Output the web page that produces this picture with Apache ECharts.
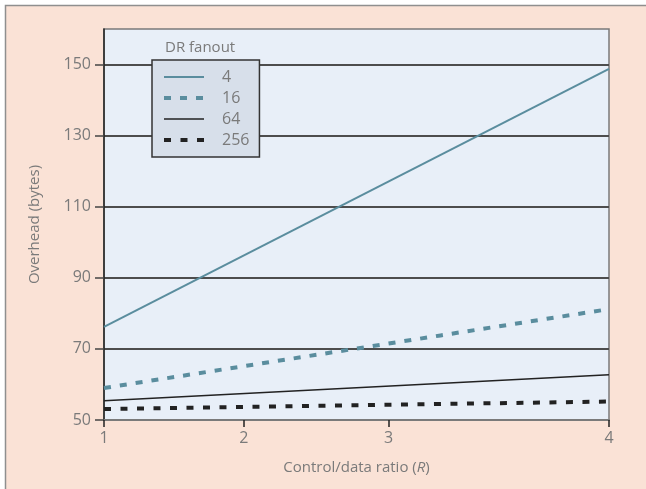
<!DOCTYPE html>
<html>
<head>
<meta charset="utf-8">
<script src="https://cdn.jsdelivr.net/npm/echarts@6/dist/echarts.min.js"></script>
<style>
  html, body { margin: 0; padding: 0; background: #ffffff; }
  #chart { width: 646px; height: 489px; }
</style>
</head>
<body>
<div id="chart"></div>
<script>
// Overhead vs. control/data ratio for several DR fanout values
const fanouts = ['4', '16', '64', '256'];

// [R, overhead in bytes]
const overhead4   = [[1, 76.2], [4, 148.8]];
const overhead16  = [[1, 59.0], [2, 66.4], [3, 73.8], [4, 81.2]];
const overhead64  = [[1, 55.4], [4, 62.7]];
const overhead256 = [[1, 53.1], [4, 55.2]];

// x tick labels and where they sit along the axis
const xTickLabels = ['1', '2', '3', '4'];
const xTickAt = [1, 1.83, 2.69, 4];

const yTicks = [50, 70, 90, 110, 130, 150];

const textGray = '#7a7a7a';
const font = 'Open Sans';

const chart = echarts.init(document.getElementById('chart'), null, { renderer: 'canvas' });

chart.setOption({
  backgroundColor: '#fae2d6',
  animation: false,
  textStyle: { fontFamily: font },
  graphic: [
    { type: 'rect', shape: { x: 0, y: 0, width: 646, height: 5 }, style: { fill: '#ffffff' }, silent: true },
    { type: 'rect', shape: { x: 0, y: 0, width: 5, height: 489 }, style: { fill: '#ffffff' }, silent: true },
    { type: 'polyline', shape: { points: [[5.5, 489], [5.5, 5.5], [646, 5.5]] },
      style: { stroke: '#8f8f8f', lineWidth: 1.5, fill: null }, silent: true }
  ],
  title: {
    text: 'DR fanout',
    left: 160,
    top: 35,
    textStyle: { fontFamily: font, fontSize: 15, fontWeight: 'normal', color: textGray }
  },
  legend: {
    data: fanouts,
    orient: 'vertical',
    left: 152,
    top: 60,
    itemWidth: 40,
    itemHeight: 14,
    itemGap: 5,
    padding: [9, 10, 9, 10],
    backgroundColor: '#d7dfea',
    borderColor: '#333333',
    borderWidth: 1.5,
    itemStyle: { opacity: 0 },
    lineStyle: { width: 'inherit' },
    textStyle: { fontFamily: font, fontSize: 16, color: textGray, padding: [0, 0, 0, 13] }
  },
  grid: {
    left: 104,
    right: 37,
    top: 29,
    bottom: 69,
    show: true,
    backgroundColor: '#e8eff8',
    borderColor: '#7a7a7a',
    borderWidth: 1.5
  },
  xAxis: {
    type: 'value',
    min: 1,
    max: 4,
    name: 'Control/data ratio ({it|R})',
    nameLocation: 'middle',
    nameGap: 40,
    nameTextStyle: {
      fontFamily: font, fontSize: 15, color: textGray,
      rich: { it: { fontFamily: font, fontSize: 15, color: textGray, fontStyle: 'italic' } }
    },
    axisLine: { show: true, lineStyle: { color: '#7a7a7a', width: 2 } },
    axisTick: { show: true, customValues: xTickAt, length: 7, lineStyle: { color: '#222', width: 1.5 } },
    axisLabel: {
      customValues: xTickAt,
      margin: 10,
      fontFamily: font,
      fontSize: 16,
      color: textGray,
      formatter: function (v) {
        const i = xTickAt.findIndex(t => Math.abs(t - v) < 1e-6);
        return i >= 0 ? xTickLabels[i] : '';
      }
    },
    splitLine: { show: false }
  },
  yAxis: {
    type: 'value',
    min: 50,
    max: 160,
    interval: 20,
    name: 'Overhead (bytes)',
    nameLocation: 'middle',
    nameGap: 62,
    nameTextStyle: { fontFamily: font, fontSize: 15, color: textGray },
    axisLine: { show: true, lineStyle: { color: '#222', width: 1.5 } },
    axisTick: { show: true, customValues: yTicks, length: 9, lineStyle: { color: '#444', width: 1.5 } },
    axisLabel: {
      customValues: yTicks,
      margin: 13,
      fontFamily: font,
      fontSize: 16,
      color: textGray
    },
    splitLine: { show: true, lineStyle: { color: '#4d4d4d', width: 2 } }
  },
  series: [
    {
      name: '4', type: 'line', data: overhead4, showSymbol: false, symbol: 'none',
      lineStyle: { color: '#5a8d9e', width: 2 }, itemStyle: { color: '#5a8d9e' }
    },
    {
      name: '16', type: 'line', data: overhead16, showSymbol: false, symbol: 'none',
      lineStyle: { color: '#5a8d9e', width: 4, type: [7, 9] }, itemStyle: { color: '#5a8d9e' }
    },
    {
      name: '64', type: 'line', data: overhead64, showSymbol: false, symbol: 'none',
      lineStyle: { color: '#222222', width: 1.5 }, itemStyle: { color: '#222222' }
    },
    {
      name: '256', type: 'line', data: overhead256, showSymbol: false, symbol: 'none',
      lineStyle: { color: '#222222', width: 4, type: [7, 9.5] }, itemStyle: { color: '#222222' }
    }
  ]
});
</script>
</body>
</html>
